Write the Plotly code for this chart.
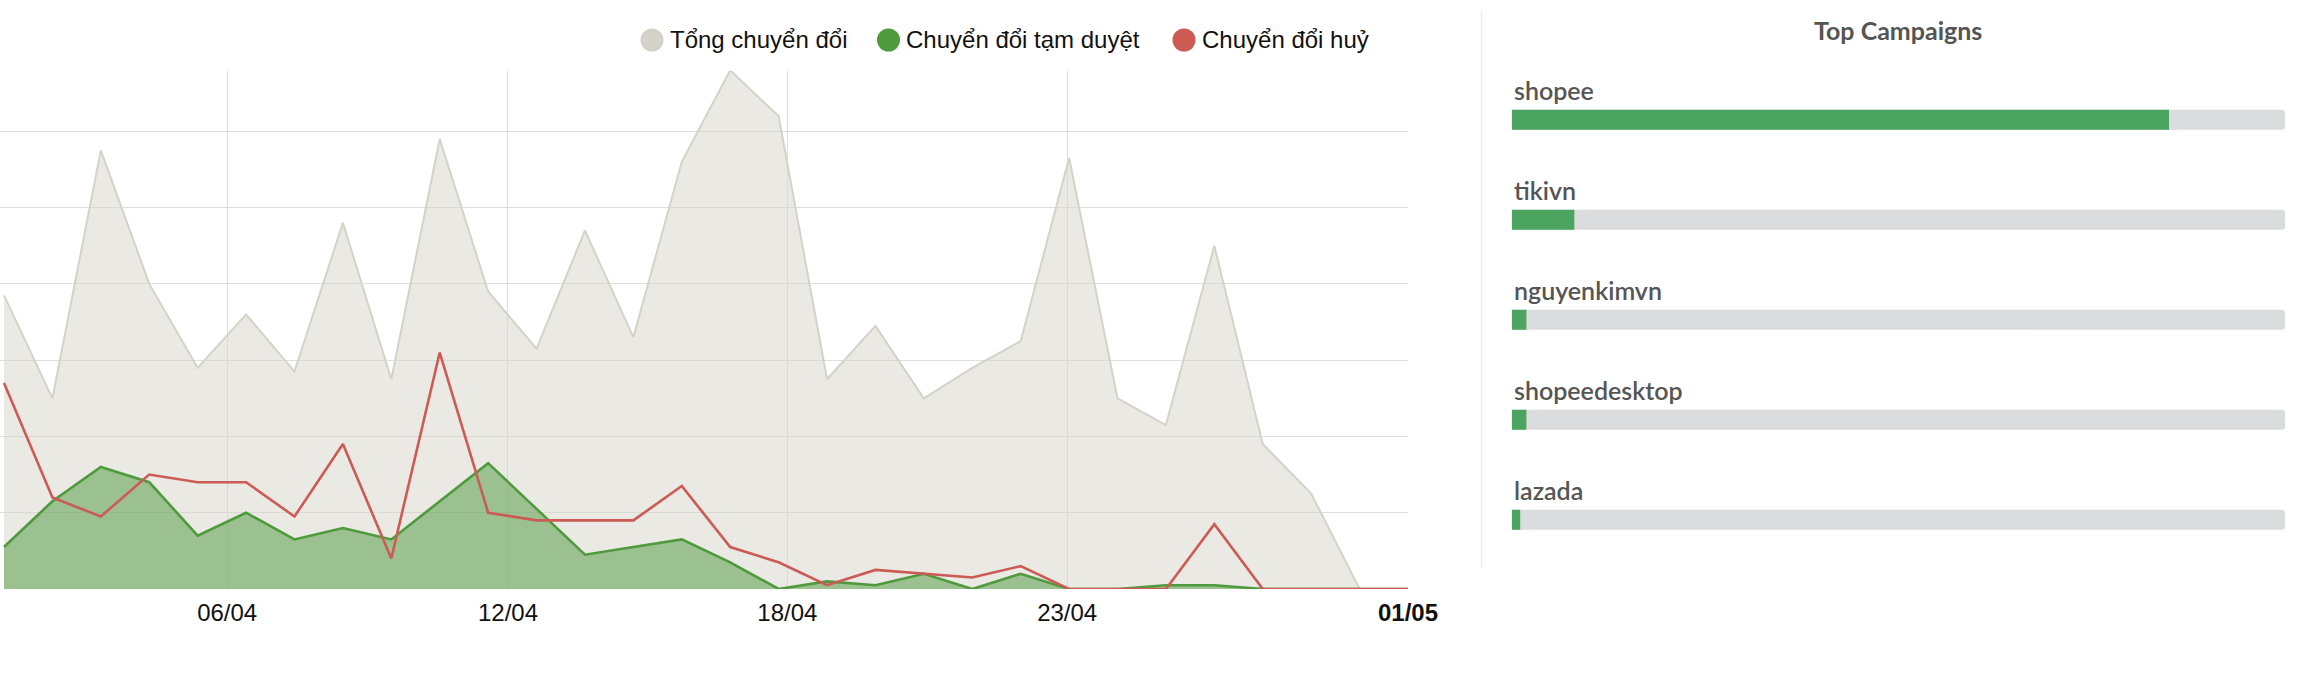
import plotly.graph_objects as go

W, H = 2304, 688

# ---------------- data ----------------
day_index = list(range(30))
tick_positions = [4.61, 10.41, 16.18, 21.96, 29.0]
tick_labels = ["06/04", "12/04", "18/04", "23/04", "<b>01/05</b>"]

series_names = ["Tổng chuyển đổi", "Chuyển đổi tạm duyệt", "Chuyển đổi huỷ"]
total_conv = [77, 50, 115, 80, 58, 72, 57, 96, 55, 118, 78, 63, 94, 66, 112,
              136, 124, 55, 69, 50, 58, 65, 113, 50, 43, 90, 38, 25, 0, 0]
pending_conv = [11, 23, 32, 28, 14, 20, 13, 16, 13, 23, 33, 21, 9, 11, 13,
                7, 0, 2, 1, 4, 0, 4, 0, 0, 1, 1, 0, 0, 0, 0]
cancel_conv = [54, 24, 19, 30, 28, 28, 19, 38, 8, 62, 20, 18, 18, 18, 27,
               11, 7, 1, 5, 4, 3, 6, 0, 0, 0, 17, 0, 0, 0, 0]

campaigns = ["shopee", "tikivn", "nguyenkimvn", "shopeedesktop", "lazada"]
campaign_share = [85.0, 8.1, 1.9, 1.9, 1.1]
campaign_track = [100, 100, 100, 100, 100]

# ---------------- styles ----------------
GRAY_LINE = "#d5d2c8"
GRAY_FILL = "rgba(214,211,200,0.5)"
GREEN_LINE = "#4e9a3d"
GREEN_FILL = "rgba(78,154,61,0.5)"
RED_LINE = "#cc5b55"
ARIAL = "Arial, Liberation Sans, sans-serif"
SANS = "Lato, Source Sans Pro, sans-serif"


def px(x):
    return x / W


def py(y):
    return 1 - y / H


fig = go.Figure()

fig.add_trace(go.Scatter(x=day_index, y=total_conv, name=series_names[0], mode="lines",
                         line=dict(color=GRAY_LINE, width=2), fill="tozeroy",
                         fillcolor=GRAY_FILL, hoverinfo="skip", xaxis="x", yaxis="y"))
fig.add_trace(go.Scatter(x=day_index, y=pending_conv, name=series_names[1], mode="lines",
                         line=dict(color=GREEN_LINE, width=2.6), fill="tozeroy",
                         fillcolor=GREEN_FILL, hoverinfo="skip", xaxis="x", yaxis="y"))
fig.add_trace(go.Scatter(x=day_index, y=cancel_conv, name=series_names[2], mode="lines",
                         line=dict(color=RED_LINE, width=2.6), hoverinfo="skip",
                         xaxis="x", yaxis="y"))

# campaign bars
fig.add_trace(go.Bar(y=campaigns, x=campaign_track, orientation="h", width=0.2,
                     marker=dict(color="#dadcdd", cornerradius=3, line=dict(width=0)),
                     hoverinfo="skip", xaxis="x2", yaxis="y2", showlegend=False))
fig.add_trace(go.Bar(y=campaigns, x=campaign_share, orientation="h", width=0.2,
                     marker=dict(color="#4ca461", cornerradius=3, line=dict(width=0)),
                     hoverinfo="skip", xaxis="x2", yaxis="y2", showlegend=False))

annotations = []
shapes = []

# manual legend (large circles)
legend_colors = ["#d4d2c8", "#4e9a3d", "#cc5b55"]
legend_centers = [652, 888.5, 1184]
for name, col, cx in zip(series_names, legend_colors, legend_centers):
    r = 11.5
    shapes.append(dict(type="circle", xref="paper", yref="paper",
                       x0=px(cx - r), x1=px(cx + r), y0=py(40 + r), y1=py(40 - r),
                       fillcolor=col, line=dict(width=0)))
    annotations.append(dict(text=name, xref="paper", yref="paper", x=px(cx + r + 4),
                            y=py(40), xanchor="left", yanchor="middle", showarrow=False,
                            font=dict(family=ARIAL, size=24, color="#111111")))

# campaign labels
for c in campaigns:
    annotations.append(dict(text=c, xref="x2", yref="y2", x=0, y=c, xanchor="left",
                            yanchor="middle", yshift=30, showarrow=False,
                            font=dict(family=SANS, size=25, color="#555555", weight=600)))

annotations.append(dict(text="<b>Top Campaigns</b>", xref="paper", yref="paper",
                        x=px(1898), y=py(30), xanchor="center", yanchor="middle",
                        showarrow=False,
                        font=dict(family=SANS, size=25, color="#555555")))

# separator
shapes.append(dict(type="line", xref="paper", yref="paper", x0=px(1481.5), x1=px(1481.5),
                   y0=py(10), y1=py(568), line=dict(color="#efefef", width=1.5)))

fig.update_layout(
    width=W, height=H,
    margin=dict(l=0, r=0, t=0, b=0),
    paper_bgcolor="white", plot_bgcolor="white",
    showlegend=False,
    barmode="overlay",
    annotations=annotations,
    shapes=shapes,
    xaxis=dict(domain=[0, px(1408)], range=[-4 / 48.414, 29.0],
               tickvals=tick_positions, ticktext=tick_labels,
               showgrid=True, gridcolor="#dedede", gridwidth=1,
               zeroline=False, showline=False, ticks="", ticklabelstandoff=7,
               tickfont=dict(family=ARIAL, size=24, color="#111111"),
               automargin=False, fixedrange=True),
    yaxis=dict(domain=[py(589), py(70.7)], range=[0, 135.9], dtick=20,
               showticklabels=False, showgrid=True, gridcolor="#dedede", gridwidth=1,
               zeroline=False, showline=False, ticks="", automargin=False,
               fixedrange=True),
    xaxis2=dict(domain=[px(1511.7), px(2285)], range=[0, 100], visible=False,
                fixedrange=True),
    yaxis2=dict(domain=[py(569.7), py(69.7)], range=[4.5, -0.5], type="category",
                categoryorder="array", categoryarray=campaigns, visible=False,
                fixedrange=True),
)

fig.write_html("out.html", config={"displayModeBar": False},
               post_script="document.body.style.margin='0px';")
